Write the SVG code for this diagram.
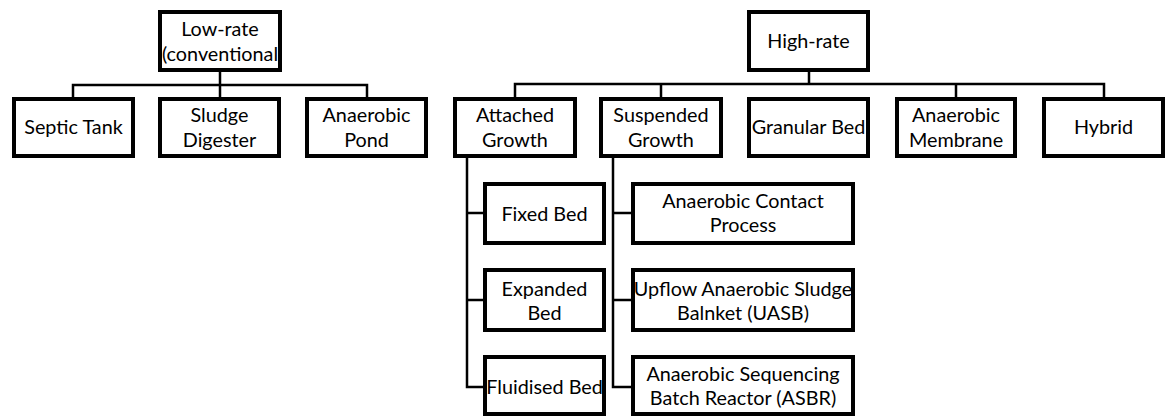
<svg xmlns="http://www.w3.org/2000/svg" width="1167" height="417" viewBox="0 0 1167 417">
<style>
.box{fill:#fff;stroke:#000;stroke-width:4}
.conn{fill:none;stroke:#000;stroke-width:2.5}
text{font-family:Lato,"Open Sans","Liberation Sans",sans-serif;font-size:19.8px;fill:#000;text-anchor:middle}
</style>
<rect width="1167" height="417" fill="#fff"/>
<g id="connectors">
<path class="conn" d="M220 72V85M73 97V85H367V97M220 85V97"/>
<path class="conn" d="M809 72V84M515 97V84H1104V97M661 84V97M956 84V97"/>
<path class="conn" d="M467 158V387H485M467 213H485M467 300H485"/>
<path class="conn" d="M613 158V387H633M613 213H633M613 300H633"/>
</g>
<g id="low-rate"><rect class="box" x="160" y="12" width="120" height="58"/><text x="220" y="36">Low-rate</text><text x="220" y="61">(conventional</text></g>
<g id="septic-tank"><rect class="box" x="14" y="99" width="119" height="57"/><text x="73.5" y="134">Septic Tank</text></g>
<g id="sludge-digester"><rect class="box" x="160" y="99" width="119" height="57"/><text x="219.5" y="122">Sludge</text><text x="219.5" y="147">Digester</text></g>
<g id="anaerobic-pond"><rect class="box" x="307" y="99" width="119" height="57"/><text x="366.5" y="122">Anaerobic</text><text x="366.5" y="147">Pond</text></g>
<g id="high-rate"><rect class="box" x="749" y="12" width="119" height="58"/><text x="808.5" y="48">High-rate</text></g>
<g id="attached-growth"><rect class="box" x="455" y="99" width="120" height="57"/><text x="515" y="122">Attached</text><text x="515" y="147">Growth</text></g>
<g id="suspended-growth"><rect class="box" x="601" y="99" width="120" height="57"/><text x="661" y="122">Suspended</text><text x="661" y="147">Growth</text></g>
<g id="granular-bed"><rect class="box" x="749" y="99" width="119" height="57"/><text x="808.5" y="134">Granular Bed</text></g>
<g id="anaerobic-membrane"><rect class="box" x="897" y="99" width="118" height="57"/><text x="956" y="122">Anaerobic</text><text x="956" y="147">Membrane</text></g>
<g id="hybrid"><rect class="box" x="1044" y="99" width="119" height="57"/><text x="1103.5" y="134">Hybrid</text></g>
<g id="fixed-bed"><rect class="box" x="485" y="184" width="119" height="59"/><text x="544.5" y="221">Fixed Bed</text></g>
<g id="expanded-bed"><rect class="box" x="485" y="270" width="119" height="60"/><text x="544.5" y="296">Expanded</text><text x="544.5" y="320">Bed</text></g>
<g id="fluidised-bed"><rect class="box" x="485" y="357" width="119" height="57"/><text x="544.5" y="394">Fluidised Bed</text></g>
<g id="anaerobic-contact"><rect class="box" x="633" y="184" width="220" height="59"/><text x="743" y="208">Anaerobic Contact</text><text x="743" y="232">Process</text></g>
<g id="uasb"><rect class="box" x="633" y="270" width="220" height="60"/><text x="743" y="296">Upflow Anaerobic Sludge</text><text x="743" y="320">Balnket (UASB)</text></g>
<g id="asbr"><rect class="box" x="633" y="357" width="220" height="57"/><text x="743" y="381">Anaerobic Sequencing</text><text x="743" y="405">Batch Reactor (ASBR)</text></g>
</svg>
